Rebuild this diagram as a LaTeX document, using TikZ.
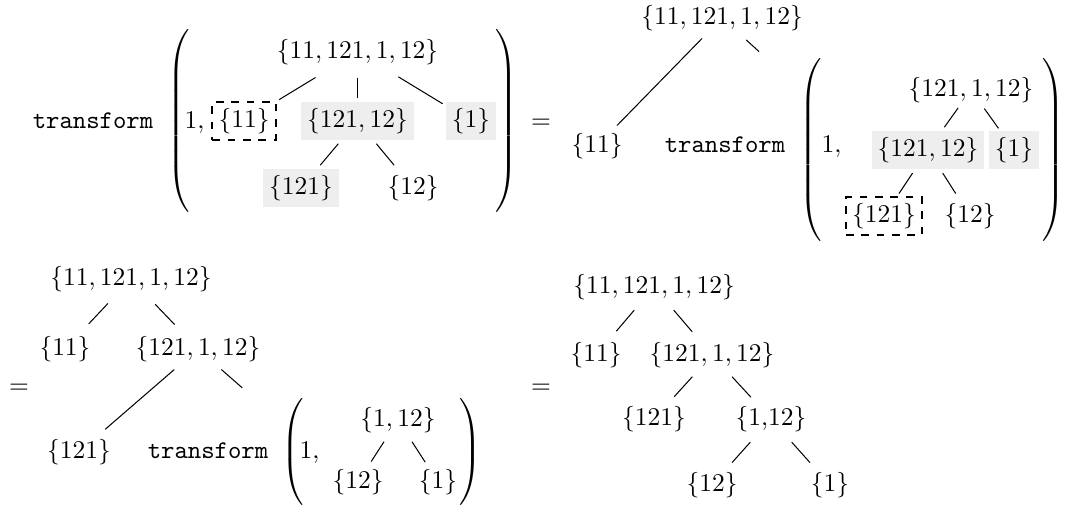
\documentclass[tikz,border=0pt]{standalone}
\usetikzlibrary{calc}
\definecolor{boxgray}{gray}{0.935}
\tikzset{
  lbl/.style={inner sep=2.4pt, outer sep=0pt},
  grayb/.style={lbl, fill=boxgray},
  dashb/.style={lbl, draw, dashed, thick},
  word/.style={inner sep=0pt, anchor=base},
  parn/.style={inner sep=0pt, outer sep=0pt},
}
\newcommand{\mylpar}[1]{$\nulldelimiterspace=0pt\left(\vcenter{\hrule height #1 width 0pt}\right.$}
\newcommand{\myrpar}[1]{$\nulldelimiterspace=0pt\left.\vcenter{\hrule height #1 width 0pt}\right)$}
\newcommand{\tredge}[4]{\draw ($(#1)!#3!(#2)$) -- ($(#1)!#4!(#2)$);}
\begin{document}
\begin{tikzpicture}[x=0.3922pt, y=-0.3922pt]
\useasboundingbox (0,0) rectangle (1070,508);
% ---------- panel 1
\node[word] (t1) at (93,128.5) {\texttt{transform}};
\node[parn, anchor=west] (lp1) at (167,121) {\mylpar{72pt}};
\node[word, anchor=base west] (c1) at (184,128.5) {$1,$};
\node[dashb] (d11) at (244,121) {$\{11\}$};
\node[lbl] (r1) at (357.5,52) {$\{11, 121, 1, 12\}$};
\node[grayb] (g1) at (357.5,121) {$\{121, 12\}$};
\node[grayb] (g2) at (471,121) {$\{1\}$};
\node[grayb] (g3) at (301,188) {$\{121\}$};
\node[lbl] (m12) at (413,188) {$\{12\}$};
\node[parn, anchor=east] (rp1) at (518,121) {\myrpar{72pt}};
\node[word] (eq1) at (541,128.5) {$=$};
\tredge{r1}{d11}{.37}{.69}
\tredge{r1}{g1}{.37}{.67}
\tredge{r1}{g2}{.36}{.75}
\tredge{g1}{g3}{.34}{.66}
\tredge{g1}{m12}{.34}{.66}
% ---------- panel 2
\node[lbl] (r2) at (722,18) {$\{11, 121, 1, 12\}$};
\node[lbl] (n11b) at (597,146) {$\{11\}$};
\node[word] (t2) at (725,152.5) {\texttt{transform}};
\node[parn, anchor=west] (lp2) at (799,150) {\mylpar{72pt}};
\node[word, anchor=base west] (c2) at (821,152.5) {$1,$};
\node[lbl] (r2b) at (971,90) {$\{121, 1, 12\}$};
\node[grayb] (g4) at (928,150) {$\{121, 12\}$};
\node[grayb] (g5) at (1014,150) {$\{1\}$};
\node[dashb] (d121) at (884,216) {$\{121\}$};
\node[lbl] (m12b) at (970,216) {$\{12\}$};
\node[parn, anchor=east] (rp2) at (1065,150) {\myrpar{72pt}};
\coordinate (tr2) at ($(t2.west)!.5!(rp2.east)$);
\tredge{r2}{n11b}{.16}{.84}
\tredge{r2}{tr2}{.17}{.26}
\tredge{r2b}{g4}{.3}{.62}
\tredge{r2b}{g5}{.31}{.64}
\tredge{g4}{d121}{.35}{.66}
\tredge{g4}{m12b}{.35}{.66}
% ---------- panel 3
\node[word] (eq2) at (19,393.5) {$=$};
\node[lbl] (r3) at (131,279) {$\{11, 121, 1, 12\}$};
\node[lbl] (n11c) at (65,349) {$\{11\}$};
\node[lbl] (r3b) at (198,349) {$\{121, 1, 12\}$};
\node[lbl] (n121c) at (79,452) {$\{121\}$};
\node[word] (t3) at (208,458.5) {\texttt{transform}};
\node[parn, anchor=west] (lp3) at (281,452) {\mylpar{42pt}};
\node[word, anchor=base west] (c3) at (299,458.5) {$1,$};
\node[lbl] (r3c) at (398,420) {$\{1, 12\}$};
\node[lbl] (n12c) at (358,482) {$\{12\}$};
\node[lbl] (n1c) at (438,482) {$\{1\}$};
\node[parn, anchor=east] (rp3) at (482,452) {\myrpar{42pt}};
\coordinate (tr3) at ($(t3.west)!.5!(rp3.east)$);
\node[word] (eq3) at (541,393.5) {$=$};
\tredge{r3}{n11c}{.35}{.64}
\tredge{r3}{r3b}{.36}{.65}
\tredge{r3b}{n121c}{.2}{.78}
\tredge{r3b}{tr3}{.2}{.38}
\tredge{r3c}{n12c}{.35}{.67}
\tredge{r3c}{n1c}{.35}{.68}
% ---------- panel 4
\node[lbl] (r4) at (654,287) {$\{11, 121, 1, 12\}$};
\node[lbl] (n11d) at (596,355) {$\{11\}$};
\node[lbl] (r4b) at (712,355) {$\{121, 1, 12\}$};
\node[lbl] (n121d) at (654,419) {$\{121\}$};
\node[lbl] (r4c) at (771,419) {$\{1{,}12\}$};
\node[lbl] (n12d) at (712,485) {$\{12\}$};
\node[lbl] (n1d) at (830,485) {$\{1\}$};
\tredge{r4}{n11d}{.34}{.65}
\tredge{r4}{r4b}{.34}{.66}
\tredge{r4b}{n121d}{.34}{.65}
\tredge{r4b}{r4c}{.34}{.66}
\tredge{r4c}{n12d}{.35}{.66}
\tredge{r4c}{n1d}{.35}{.66}
\end{tikzpicture}
\end{document}
